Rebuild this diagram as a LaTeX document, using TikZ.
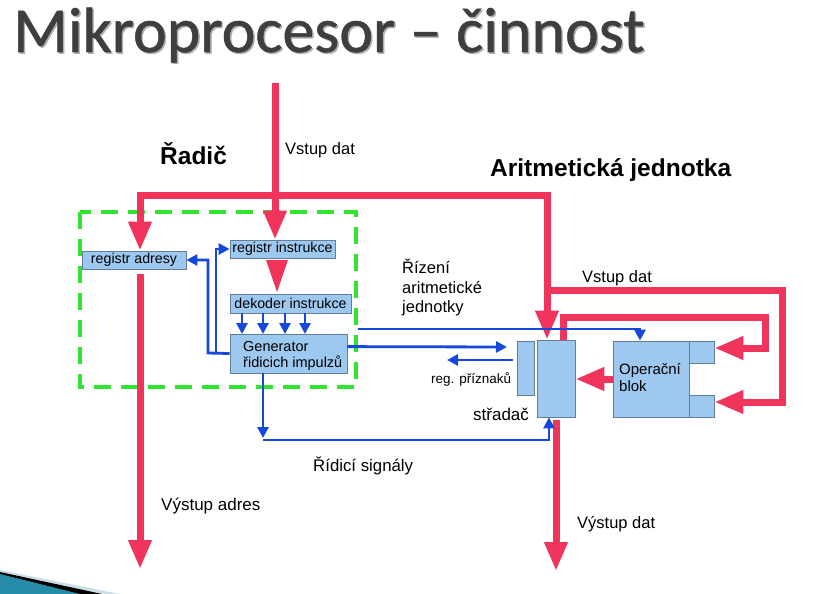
\documentclass[tikz,border=0pt]{standalone}
\usepackage{fontspec}
\setmainfont{Liberation Sans}
\newfontfamily\titlefont[FakeBold=0.8]{Carlito}
\usetikzlibrary{arrows.meta,calc}

\definecolor{flow}{RGB}{240,52,92}
\definecolor{sig}{RGB}{22,72,222}
\definecolor{boxfill}{RGB}{157,200,240}
\definecolor{boxline}{RGB}{100,125,155}
\definecolor{ctrl}{RGB}{48,228,48}
\definecolor{titlegrey}{RGB}{62,62,62}
\definecolor{titleshade}{RGB}{175,175,175}
\definecolor{swoosh}{RGB}{38,140,168}
\definecolor{swooshpale}{RGB}{205,222,230}

\tikzset{
  unit/.style={draw=boxline, fill=boxfill, line width=0.8pt, inner sep=0pt,
    font=\fontsize{14.2}{16}\selectfont},
  dataflow/.style={draw=flow, line width=7pt,
    -{Triangle[length=29pt,width=22pt]}},
  dataflow2/.style={draw=flow, line width=7pt,
    {Triangle[length=29pt,width=22pt]}-{Triangle[length=29pt,width=22pt]}},
  signal/.style={draw=sig, line width=2.8pt,
    -{Triangle[length=11pt,width=11pt]}},
  txt/.style={font=\fontsize{16.5}{20}\selectfont, inner sep=0pt, anchor=base west},
  smalltxt/.style={font=\fontsize{13.5}{16}\selectfont, inner sep=0pt, anchor=base west},
  heading/.style={font=\bfseries\fontsize{24.5}{28}\selectfont, inner sep=0pt, anchor=base west},
  titletxt/.style={font=\titlefont\fontsize{64}{72}\selectfont, inner sep=0pt, anchor=base west},
}

\begin{document}
\begin{tikzpicture}[x=1pt,y=-1pt]
\useasboundingbox (0,0) rectangle (833,594);

% title with a soft shadow
\node[titletxt, text=titleshade] at (14.5,53.5) {Mikroprocesor – činnost};
\node[titletxt, text=titlegrey] (title) at (13,52) {Mikroprocesor – činnost};

% corner ornament
\fill[swooshpale] (0,570) -- (120,594) -- (0,594) -- cycle;
\fill[black] (0,572) -- (102,594) -- (0,594) -- cycle;
\fill[swoosh] (0,574) -- (80,594) -- (0,594) -- cycle;

% functional blocks
\node[unit, minimum width=104pt, minimum height=18pt] (regadr) at (134,260) {registr adresy};
\node[unit, minimum width=105pt, minimum height=18pt] (reginstr) at (282.5,249) {registr instrukce};
\node[unit, minimum width=121pt, minimum height=19pt] (dekoder) at (290.5,303.5) {dekoder instrukce};
\node[unit, minimum width=117pt, minimum height=39pt] (gen) at (288.5,353.5) {};
\node[font=\fontsize{14.5}{16.5}\selectfont, inner sep=0pt, anchor=base west] (gen1) at (243,351) {Generator};
\node[font=\fontsize{14.5}{16.5}\selectfont, inner sep=0pt, anchor=base west] (gen2) at (243,367) {řidicich impulzů};

\node[unit, minimum width=17pt, minimum height=54pt] (regpr) at (525.5,368) {};
\node[unit, minimum width=38pt, minimum height=77pt] (strad) at (556,378.5) {};
\node[unit, minimum width=76pt, minimum height=76pt] (oper) at (651,379) {};
\node[unit, minimum width=25pt, minimum height=22pt] (ob1) at (701.5,352) {};
\node[unit, minimum width=25pt, minimum height=22pt] (ob2) at (701.5,406) {};

% control unit boundary
\draw[ctrl, line width=4pt, dash pattern=on 17pt off 10pt] (80,212) rectangle (356,387);
\coordinate (ctrlright) at (358,329);

% data paths
\coordinate (datain) at (275,83);
\draw[dataflow] (datain) -- (reginstr.north -| datain);
\draw[dataflow2] (regadr.north -| 140,0) |- (547,195) -- (strad.north -| 547,0);
\draw[dataflow] (547,290) -- (782,290) |- ($(ob2.east)+(0,-4)$);
\draw[dataflow] (strad.north -| 563,0) -- (563,317) -- (765,317) |- ($(ob1.east)+(0,-4)$);
\draw[dataflow] (oper.west) -- (strad.east |- oper.west);
\fill[flow] (266,260) -- (288,260) -- (277,292) -- cycle;
\draw[dataflow] ($(regadr.south -| 140,0)+(0,5)$) -- (140,569);
\draw[dataflow] ($(strad.south -| 556,0)+(0,3)$) -- (556,571);

% control signals
\draw[signal] (gen.west) -- (208,353) |- (regadr.east);
\draw[signal] (216,353) |- (reginstr.west);
\foreach \xx in {242,263,285,305}
  \draw[signal] (\xx,313) -- (\xx,334);
\draw[signal] (ctrlright) -- (640,329) -- (oper.north -| 640,0);
\draw[signal] ($(gen.north east)+(0,13)$) -- (507,347);
\draw[signal] (513,360) -- (447,360);
\draw[signal] (gen.south -| 263,0) -- (263,438);
\draw[signal] (263,440) -- (549,440) -- (strad.south -| 549,0);

% labels
\node[heading] (radic) at (160,164) {Řadič};
\node[heading] (alu) at (490,176) {Aritmetická jednotka};
\node[txt] (vstup1) at (285,154) {Vstup dat};
\node[txt] (riz1) at (402,273) {Řízení};
\node[txt] (riz2) at (402,293) {aritmetické};
\node[txt] (riz3) at (402,312) {jednotky};
\node[txt] (vstup2) at (582,282) {Vstup dat};
\node[smalltxt] (regprlbl) at (431,383) {reg. příznaků};
\node[font=\fontsize{15}{17}\selectfont, inner sep=0pt, anchor=base west] (oper1) at (619,374) {Operační};
\node[font=\fontsize{15}{17}\selectfont, inner sep=0pt, anchor=base west] (oper2) at (619,391) {blok};
\node[txt, font=\fontsize{17}{20}\selectfont] (stradlbl) at (473,420) {střadač};
\node[txt, font=\fontsize{16.8}{20}\selectfont] (ridsig) at (313,471) {Řídicí signály};
\node[txt, font=\fontsize{17}{20}\selectfont] (vyadr) at (161,510) {Výstup adres};
\node[txt] (vydat) at (577,528) {Výstup dat};
\end{tikzpicture}
\end{document}
